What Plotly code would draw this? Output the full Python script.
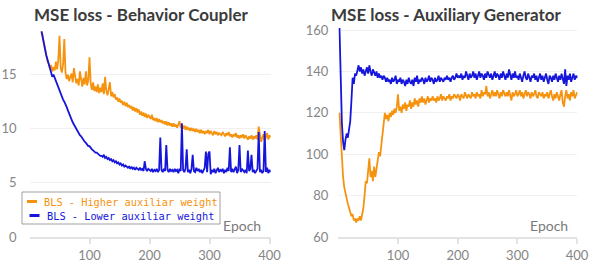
import plotly.graph_objects as go

# ---------------- data ----------------
coupler_epochs = list(range(20, 404, 2))
coupler_higher = [
    19.0, 18.6, 17.9, 17.3, 16.8, 16.2, 16.0, 15.6, 15.9, 15.3,
    15.7, 15.4, 16.2, 15.5, 16.4, 18.6, 15.6, 15.2, 16.0, 18.3,
    15.2, 14.6, 15.0, 14.4, 14.8, 15.1, 14.3, 15.6, 14.9, 14.2,
    14.6, 14.0, 15.3, 14.4, 13.9, 14.7, 14.1, 15.3, 14.0, 14.5,
    16.6, 14.2, 13.6, 14.3, 13.5, 13.9, 13.4, 14.1, 13.3, 13.8,
    13.4, 14.2, 13.2, 14.8, 13.5, 13.1, 13.7, 14.3, 13.0, 13.4,
    12.9, 13.2, 12.7, 12.9, 12.5, 12.8, 12.4, 12.6, 12.2, 12.5,
    12.1, 12.4, 12.0, 12.2, 11.9, 12.1, 11.7, 12.0, 11.6, 11.9,
    11.5, 11.8, 11.3, 11.6, 11.2, 11.5, 11.1, 11.4, 11.0, 11.3,
    11.1, 10.9, 11.3, 10.8, 11.0, 10.7, 11.0, 10.6, 10.9, 10.6,
    10.8, 10.5, 10.7, 10.4, 10.7, 10.3, 10.6, 10.3, 10.5, 10.2,
    10.5, 10.2, 10.4, 10.1, 10.4, 10.7, 10.1, 10.4, 10.0, 10.3,
    9.9, 10.2, 9.9, 10.1, 9.8, 10.1, 9.8, 10.0, 9.7, 10.0,
    9.7, 9.9, 9.6, 9.9, 9.6, 9.8, 9.5, 9.8, 9.6, 9.9,
    9.5, 9.8, 9.6, 9.4, 9.8, 9.5, 9.7, 9.4, 9.6, 9.5,
    9.4, 9.7, 9.5, 9.3, 9.6, 9.4, 9.7, 9.3, 9.5, 9.2,
    9.5, 9.3, 9.6, 9.2, 9.4, 9.1, 9.4, 9.2, 9.5, 9.1,
    9.4, 9.2, 9.0, 9.3, 9.1, 9.4, 9.0, 9.3, 9.1, 9.4,
    9.0, 10.2, 9.3, 8.8, 9.2, 9.5, 8.9, 9.3, 9.6, 9.0,
    9.4, 9.2,
]
coupler_lower = [
    19.0, 18.4, 17.8, 17.3, 16.8, 16.4, 16.0, 15.6, 15.2, 14.8,
    15.0, 14.7, 14.4, 14.1, 13.8, 13.5, 13.2, 12.9, 12.7, 12.5,
    12.3, 12.0, 11.7, 11.4, 11.1, 10.9, 10.6, 10.4, 10.2, 9.9,
    9.8, 9.6, 9.4, 9.3, 9.1, 8.9, 8.8, 8.7, 8.5, 8.4,
    8.4, 8.2, 8.1, 8.0, 7.9, 7.8, 7.8, 7.7, 7.6, 7.5,
    7.5, 7.4, 7.6, 7.3, 7.4, 7.2, 7.3, 7.1, 7.2, 7.0,
    7.1, 6.9, 7.0, 6.8, 6.9, 6.7, 6.8, 6.6, 6.7, 6.5,
    6.6, 6.5, 6.4, 6.5, 6.3, 6.5, 6.3, 6.4, 6.2, 6.4,
    6.3, 6.2, 6.4, 6.2, 6.3, 6.1, 7.0, 6.3, 6.1, 6.3,
    6.2, 6.1, 6.3, 6.0, 6.2, 6.1, 6.3, 6.0, 6.2, 9.2,
    6.2, 6.0, 6.3, 6.1, 8.5, 6.2, 6.0, 6.3, 6.1, 6.2,
    6.0, 6.3, 6.1, 6.2, 5.9, 6.3, 6.1, 10.5, 6.2, 6.0,
    6.3, 8.1, 6.0, 6.2, 5.9, 6.3, 7.6, 6.1, 6.0, 6.4,
    6.1, 6.3, 6.0, 6.2, 5.9, 6.1, 6.4, 7.9, 6.0, 7.7,
    7.9, 5.8, 6.2, 6.0, 6.3, 5.9, 6.1, 6.4, 6.0, 6.2,
    6.1, 6.3, 5.9, 6.2, 6.0, 6.4, 6.1, 8.3, 6.0, 6.3,
    6.0, 6.2, 6.5, 5.9, 6.2, 8.5, 6.0, 6.3, 6.1, 6.0,
    6.2, 5.9, 8.0, 6.1, 6.3, 7.6, 6.0, 6.2, 5.9, 6.1,
    6.3, 9.7, 6.0, 6.2, 5.9, 6.1, 9.8, 6.0, 6.4, 5.9,
    6.2, 6.0,
]

generator_epochs = list(range(2, 404, 2))
generator_higher = [
    120, 108, 96, 89, 84, 81, 78, 76, 74, 72,
    70, 71, 68, 69, 67, 69, 68, 70, 68, 71,
    74, 80, 87, 86, 91, 98, 89, 92, 87, 94,
    89, 93, 96, 101, 99, 104, 108, 112, 120, 117,
    119, 116, 120, 118, 121, 119, 122, 120, 123, 129,
    121, 123, 120, 124, 122, 125, 121, 124, 123, 126,
    122, 125, 123, 127, 124, 126, 123, 127, 125, 128,
    125, 127, 124, 126, 128, 125, 127, 126, 128, 126,
    127, 125, 128, 126, 127, 129, 126, 128, 127, 126,
    128, 127, 129, 126, 128, 127, 129, 128, 127, 129,
    128, 126, 129, 128, 127, 130, 128, 127, 129, 128,
    127, 130, 128, 129, 127, 130, 128, 129, 127, 131,
    128, 130, 129, 133, 128, 130, 127, 129, 131, 128,
    130, 128, 131, 129, 127, 130, 128, 131, 129, 128,
    130, 128, 131, 129, 126, 130, 128, 129, 131, 128,
    129, 131, 128, 130, 127, 129, 131, 128, 130, 129,
    127, 130, 128, 129, 131, 128, 127, 130, 129, 128,
    130, 127, 129, 128, 130, 127, 129, 131, 128, 126,
    129, 127, 130, 128, 126, 129, 131, 125, 123, 128,
    131, 127, 129, 126, 130, 128, 131, 127, 129, 130,
    129,
]
generator_lower = [
    161, 135, 115, 106, 102, 107, 110, 108, 112, 116,
    126, 137, 134, 139, 138, 141, 143, 140, 142, 139,
    141, 138, 140, 142, 139, 143, 140, 138, 141, 139,
    138, 140, 137, 139, 137, 138, 136, 138, 137, 135,
    137, 135, 136, 134, 137, 135, 136, 138, 134, 136,
    135, 137, 134, 136, 135, 133, 136, 134, 137, 135,
    134, 136, 133, 137, 135, 138, 134, 136, 135, 137,
    136, 134, 137, 135, 136, 138, 135, 137, 136, 134,
    137, 135, 136, 138, 135, 137, 136, 135, 137, 136,
    138, 136, 137, 135, 137, 138, 136, 137, 139, 137,
    138, 137, 139, 136, 138, 137, 140, 138, 136, 139,
    137, 138, 140, 137, 139, 136, 138, 140, 137, 139,
    138, 136, 139, 137, 140, 138, 137, 139, 136, 138,
    140, 137, 139, 138, 136, 139, 137, 140, 138, 136,
    139, 137, 141, 138, 136, 139, 137, 140, 137, 138,
    136, 139, 137, 135, 138, 140, 137, 136, 139, 137,
    135, 138, 137, 139, 136, 138, 135, 137, 139, 136,
    138, 135, 137, 139, 136, 134, 138, 137, 135, 138,
    136, 139, 137, 135, 138, 136, 139, 137, 134, 141,
    133, 138, 136, 139, 135, 137, 139, 136, 138, 137,
    138,
]

series_names = ["BLS - Higher auxiliar weight", "BLS - Lower auxiliar weight"]
titles = ["MSE loss - Behavior Coupler", "MSE loss - Auxiliary Generator"]
x_ticks = [100, 200, 300, 400]
coupler_y_ticks = [0, 5, 10, 15]
generator_y_ticks = [60, 80, 100, 120, 140, 160]

ORANGE = "#F5930F"
BLUE = "#1515DC"
TICK_FONT = dict(family="Lato", size=13, color="#858585")

fig = go.Figure()
fig.add_trace(go.Scatter(x=coupler_epochs, y=coupler_higher, mode="lines",
                         line=dict(color=ORANGE, width=1.8), xaxis="x", yaxis="y"))
fig.add_trace(go.Scatter(x=coupler_epochs, y=coupler_lower, mode="lines",
                         line=dict(color=BLUE, width=1.8), xaxis="x", yaxis="y"))
fig.add_trace(go.Scatter(x=generator_epochs, y=generator_higher, mode="lines",
                         line=dict(color=ORANGE, width=1.8), xaxis="x2", yaxis="y2"))
fig.add_trace(go.Scatter(x=generator_epochs, y=generator_lower, mode="lines",
                         line=dict(color=BLUE, width=1.8), xaxis="x2", yaxis="y2"))

W, H = 589, 268
ydom = [31 / H, 242 / H]

xcommon = dict(tickvals=x_ticks, showgrid=False, zeroline=False, showline=True,
               linecolor="#e3e3e3", linewidth=2, ticks="outside", ticklen=5,
               tickcolor="#e3e3e3", tickwidth=1.5, tickfont=TICK_FONT,
               automargin=False)
ycommon = dict(showgrid=True, gridcolor="#f0f0f0", gridwidth=1, zeroline=False,
               showline=False, ticks="", tickfont=TICK_FONT, automargin=False)

fig.update_layout(
    template="none",
    width=W, height=H, margin=dict(l=0, r=0, t=0, b=0, pad=0, autoexpand=False),
    paper_bgcolor="white", plot_bgcolor="white", showlegend=False,
    xaxis=dict(domain=[29.5 / W, 270.7 / W], range=[0, 402], anchor="y", **xcommon),
    yaxis=dict(domain=ydom, range=[0, 19.5], tickvals=coupler_y_ticks, anchor="x",
               ticklabelstandoff=12, **ycommon),
    xaxis2=dict(domain=[338.3 / W, 577.4 / W], range=[0, 400.5], anchor="y2", **xcommon),
    yaxis2=dict(domain=ydom, range=[60, 162], tickvals=generator_y_ticks, anchor="x2",
                ticklabelstandoff=9, **ycommon),
)

title_font = dict(family="Lato", size=17, color="#3b3b3b", weight="bold")
fig.add_annotation(text=titles[0], x=141 / W, y=1 - 15 / H, xref="paper", yref="paper",
                   showarrow=False, font=title_font, xanchor="center", yanchor="middle")
fig.add_annotation(text=titles[1], x=446 / W, y=1 - 14 / H, xref="paper", yref="paper",
                   showarrow=False, font=title_font, xanchor="center", yanchor="middle")

epoch_font = dict(family="Lato", size=14, color="#7a7a7a")
fig.add_annotation(text="Epoch", x=263 / W, y=1 - 225 / H, xref="paper", yref="paper",
                   showarrow=False, font=epoch_font, xanchor="right", yanchor="middle")
fig.add_annotation(text="Epoch", x=570 / W, y=1 - 225 / H, xref="paper", yref="paper",
                   showarrow=False, font=epoch_font, xanchor="right", yanchor="middle")

# custom legend box
fig.add_shape(type="rect", xref="paper", yref="paper",
              x0=22 / W, x1=220 / W, y0=1 - 224 / H, y1=1 - 192 / H,
              line=dict(color="#a0a0a0", width=1), fillcolor="white", layer="above")
leg_font = dict(family="DejaVu Sans Mono", size=10.3)
for i, (name, col, ly, lx0, tx) in enumerate([
        (series_names[0], ORANGE, 201.5, 27, 42),
        (series_names[1], BLUE, 215.5, 29.5, 45)]):
    fig.add_shape(type="line", xref="paper", yref="paper",
                  x0=lx0 / W, x1=(lx0 + 10) / W, y0=1 - ly / H, y1=1 - ly / H,
                  line=dict(color=col, width=3), layer="above")
    fig.add_annotation(text=name, x=tx / W, y=1 - ly / H, xref="paper", yref="paper",
                       showarrow=False, font=dict(color=col, **leg_font),
                       xanchor="left", yanchor="middle")

fig.write_html("out.html", config={"displayModeBar": False},
               post_script="document.body.style.margin='0';")
